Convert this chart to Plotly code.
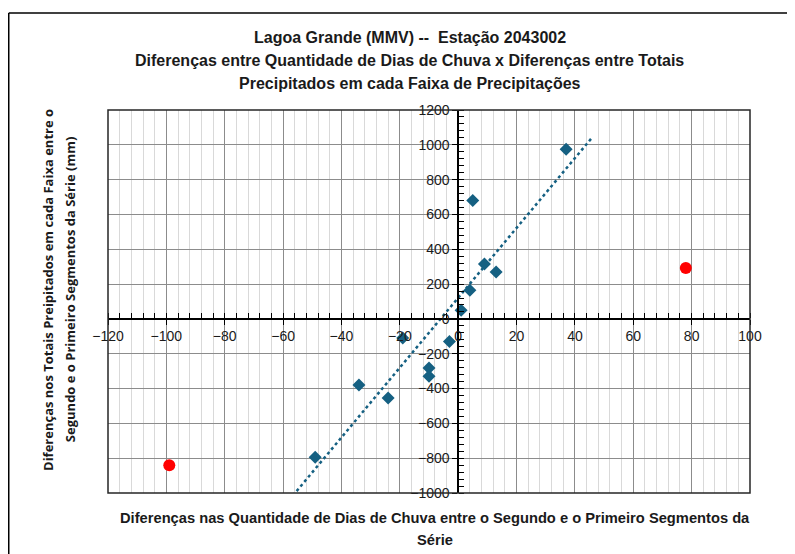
import numpy as np
import plotly.graph_objects as go

# diferencas em dias de chuva (x) e em totais precipitados (y), por faixa
dias = [37, 5, 9, 13, 4, 1, -19, -3, -10, -10, -34, -24, -49]
totais = [975, 680, 315, 270, 165, 50, -110, -130, -282, -330, -380, -455, -795]

# pontos fora da tendencia (em vermelho)
dias_out = [78, -99]
totais_out = [293, -840]

x_ticks = list(range(-120, 101, 20))
y_ticks = list(range(-1000, 1201, 200))

azul = "#156082"
narrow = "Liberation Sans Narrow, Arial Narrow, sans-serif"

# linha de tendencia linear (com previsao de 9 unidades para cada lado)
a, b = np.polyfit(dias, totais, 1)
xt = np.array([min(dias) - 9, max(dias) + 9])
yt = a * xt + b

fig = go.Figure()
fig.add_trace(go.Scatter(x=xt, y=yt, mode="lines",
                         line=dict(color=azul, width=2.5, dash="dot"),
                         showlegend=False))
fig.add_trace(go.Scatter(x=dias, y=totais, mode="markers",
                         marker=dict(symbol="diamond", size=10, color=azul),
                         showlegend=False))
fig.add_trace(go.Scatter(x=dias_out, y=totais_out, mode="markers",
                         marker=dict(symbol="circle", size=12, color="#FF0000"),
                         showlegend=False))

fig.update_xaxes(range=[-120, 100], tickvals=x_ticks, anchor="free", position=1000 / 2200,
                 showline=True, linecolor="black", linewidth=1.5, zeroline=False,
                 showgrid=True, gridcolor="#8c8c8c", gridwidth=1,
                 ticks="outside", ticklen=5, tickcolor="black",
                 minor=dict(dtick=4, showgrid=True, gridcolor="#d9d9d9",
                            ticks="inside", ticklen=5, tickcolor="black"),
                 tickfont=dict(family="Liberation Sans, Arial", size=14, color="#1a1a1a"))
fig.update_yaxes(range=[-1000, 1200], tickvals=y_ticks, anchor="free", position=120 / 220,
                 showline=True, linecolor="black", linewidth=1.5, zeroline=False,
                 showgrid=True, gridcolor="#8c8c8c", gridwidth=1,
                 ticks="outside", ticklen=5, tickcolor="black",
                 minor=dict(dtick=40, showgrid=False,
                            ticks="inside", ticklen=5, tickcolor="black"),
                 tickfont=dict(family="Liberation Sans, Arial", size=14, color="#1a1a1a"))

titulo = ["Lagoa Grande (MMV) --  Estação 2043002",
          "Diferenças entre Quantidade de Dias de Chuva x Diferenças entre Totais",
          "Precipitados em cada Faixa de Precipitações"]
annots = []
for i, t in enumerate(titulo):
    annots.append(dict(text="<b>" + t + "</b>", x=0.47, y=1.188 - i * 0.06,
                       xref="paper", yref="paper", showarrow=False,
                       xanchor="center", yanchor="middle",
                       font=dict(family=narrow, size=16, color="#1a1a1a")))
for i, t in enumerate(["Diferenças nas Quantidade de Dias de Chuva entre o Segundo e o Primeiro Segmentos da",
                       "Série"]):
    annots.append(dict(text="<b>" + t + "</b>", x=0.509, y=-0.065 - i * 0.058,
                       xref="paper", yref="paper", showarrow=False,
                       xanchor="center", yanchor="middle",
                       font=dict(family=narrow, size=14.7, color="#1a1a1a")))
for i, t in enumerate(["Diferenças nos Totais Preipitados em cada Faixa entre o",
                       "Segundo e o Primeiro Segmentos da Série (mm)"]):
    annots.append(dict(text="<b>" + t + "</b>", x=-0.0935 + i * 0.0345, y=0.53,
                       xref="paper", yref="paper", showarrow=False, textangle=-90,
                       xanchor="center", yanchor="middle",
                       font=dict(family="Open Sans, sans-serif", size=13, color="#1a1a1a")))

# a pagina tem 8px de margem no body: figura menor para caber na janela
fig.update_layout(
    width=787, height=546,
    margin=dict(l=100, r=45, t=102, b=61),
    paper_bgcolor="white", plot_bgcolor="white",
    annotations=annots,
    shapes=[
        dict(type="rect", xref="paper", yref="paper", x0=0, y0=0, x1=1, y1=1,
             line=dict(color="#262626", width=1.5)),
        dict(type="line", xref="paper", yref="paper", x0=-0.1546, y0=1.253, x1=1.2, y1=1.253,
             line=dict(color="black", width=1.5)),
        dict(type="line", xref="paper", yref="paper", x0=-0.1546, y0=1.253, x1=-0.1546, y1=-0.3,
             line=dict(color="black", width=1.5)),
    ],
)

fig.write_html("out.html")
